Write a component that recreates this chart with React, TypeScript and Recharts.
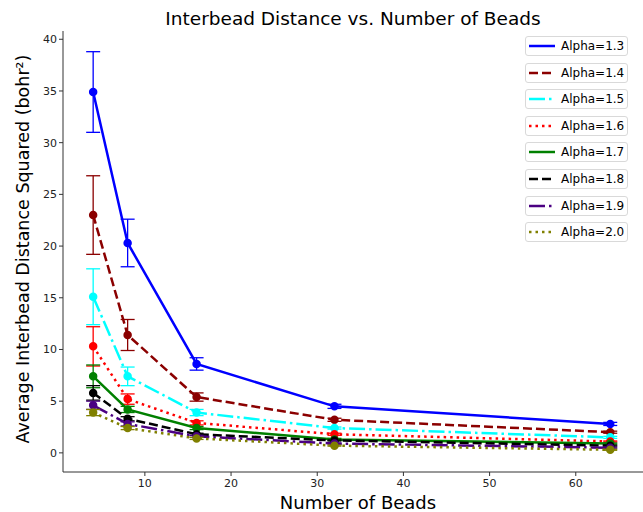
import React from 'react';
import { LineChart, Line, XAxis, YAxis, ErrorBar } from 'recharts';

// number of beads on the x axis
const beads = [4, 8, 16, 32, 64];

// average interbead distance squared per alpha, with its error
const alpha13 = [34.9, 20.3, 8.6, 4.5, 2.8];
const err13 = [3.9, 2.3, 0.6, 0.2, 0.15];
const alpha14 = [23.0, 11.4, 5.4, 3.2, 2.0];
const err14 = [3.8, 1.5, 0.4, 0.15, 0.1];
const alpha15 = [15.1, 7.4, 3.9, 2.4, 1.5];
const err15 = [2.7, 0.9, 0.3, 0.1, 0.1];
const alpha16 = [10.3, 5.2, 2.9, 1.8, 1.1];
const err16 = [1.9, 0.5, 0.2, 0.1, 0.05];
const alpha17 = [7.4, 4.2, 2.4, 1.3, 0.9];
const err17 = [1.1, 0.3, 0.15, 0.1, 0.05];
const alpha18 = [5.8, 3.3, 1.8, 1.2, 0.7];
const err18 = [0.7, 0.2, 0.1, 0.05, 0.05];
const alpha19 = [4.6, 2.8, 1.6, 0.9, 0.5];
const err19 = [0.4, 0.2, 0.1, 0.05, 0.05];
const alpha20 = [3.9, 2.4, 1.4, 0.7, 0.3];
const err20 = [0.3, 0.15, 0.1, 0.05, 0.05];

const series = [
  { name: 'Alpha=1.3', key: 'a13', values: alpha13, errors: err13, color: '#0000ff', dash: undefined },
  { name: 'Alpha=1.4', key: 'a14', values: alpha14, errors: err14, color: '#8b0000', dash: '9 4' },
  { name: 'Alpha=1.5', key: 'a15', values: alpha15, errors: err15, color: '#00ffff', dash: '16 4 2.5 4' },
  { name: 'Alpha=1.6', key: 'a16', values: alpha16, errors: err16, color: '#ff0000', dash: '2.5 4' },
  { name: 'Alpha=1.7', key: 'a17', values: alpha17, errors: err17, color: '#008000', dash: undefined },
  { name: 'Alpha=1.8', key: 'a18', values: alpha18, errors: err18, color: '#000000', dash: '9 4' },
  { name: 'Alpha=1.9', key: 'a19', values: alpha19, errors: err19, color: '#4b0082', dash: '16 4 2.5 4' },
  { name: 'Alpha=2.0', key: 'a20', values: alpha20, errors: err20, color: '#808000', dash: '2.5 4' },
];

const data = beads.map((n, i) => {
  const row: Record<string, number> = { beads: n };
  series.forEach(s => {
    row[s.key] = s.values[i];
    row[s.key + 'Err'] = s.errors[i];
  });
  return row;
});

const font = '"DejaVu Sans", sans-serif';
const tickStyle = { fontSize: 11, fill: '#222', fontFamily: font };

// each legend entry sits in its own little box, like the original
const LegendBoxes = () => (
  <div style={{ position: 'absolute', top: 36, left: 525, fontFamily: font, fontSize: 12, color: '#000' }}>
    {series.map(s => (
      <div
        key={s.key}
        style={{
          width: 103,
          height: 20,
          border: '1px solid #d9d9d9',
          borderRadius: 3,
          marginBottom: 6.6,
          display: 'flex',
          alignItems: 'center',
          background: '#fff',
          boxSizing: 'border-box',
        }}
      >
        <svg width={34} height={10} style={{ marginLeft: 1 }}>
          <line x1={2} y1={5} x2={28} y2={5} stroke={s.color} strokeWidth={2.5} strokeDasharray={s.dash} />
        </svg>
        <span>{s.name}</span>
      </div>
    ))}
  </div>
);

export default function App() {
  return (
    <div style={{ position: 'fixed', top: 0, left: 0, width: 643, height: 512, background: '#fff', overflow: 'hidden' }}>
      <LineChart width={643} height={512} data={data} margin={{ top: 31, right: 0, bottom: 0, left: 0 }}>
        <XAxis
          dataKey="beads"
          type="number"
          domain={[0.5, 67.8]}
          ticks={[10, 20, 30, 40, 50, 60]}
          allowDataOverflow
          height={40}
          stroke="#333"
          tickSize={4}
          tickMargin={3}
          tick={tickStyle}
        />
        <XAxis xAxisId="top" orientation="top" dataKey="beads" type="number" domain={[0.5, 67.8]} height={0} tick={false} tickLine={false} stroke="#333" />
        <YAxis
          type="number"
          domain={[-1.85, 40.8]}
          ticks={[0, 5, 10, 15, 20, 25, 30, 35, 40]}
          allowDataOverflow
          width={63}
          stroke="#333"
          tickSize={4}
          tick={tickStyle}
        />
        {series.map(s => (
          <Line
            key={s.key}
            dataKey={s.key}
            name={s.name}
            type="linear"
            stroke={s.color}
            strokeWidth={2.5}
            strokeDasharray={s.dash}
            dot={{ r: 3, fill: s.color, stroke: s.color, strokeDasharray: '' }}
            activeDot={false}
            isAnimationActive={false}
          >
            <ErrorBar dataKey={s.key + 'Err'} width={7} stroke={s.color} strokeWidth={1.3} direction="y" />
          </Line>
        ))}
      </LineChart>
      <svg width={643} height={512} style={{ position: 'absolute', top: 0, left: 0, pointerEvents: 'none' }}>
        <text x={353} y={25} textAnchor="middle" fontFamily={font} fontSize={18.5} fill="#000">
          Interbead Distance vs. Number of Beads
        </text>
        <text x={358} y={509} textAnchor="middle" fontFamily={font} fontSize={18} fill="#000">
          Number of Beads
        </text>
        <text
          x={0}
          y={0}
          transform="translate(29, 249) rotate(-90)"
          textAnchor="middle"
          fontFamily={font}
          fontSize={17.5}
          fill="#000"
        >
          Average Interbead Distance Squared (bohr²)
        </text>
      </svg>
      <LegendBoxes />
    </div>
  );
}
